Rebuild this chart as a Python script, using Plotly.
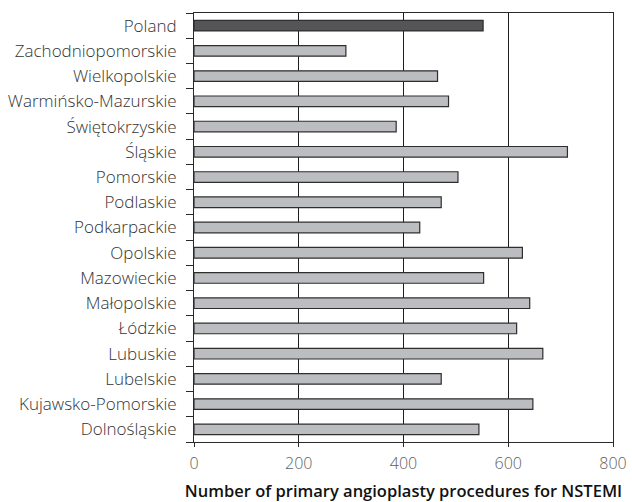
import plotly.graph_objects as go

regions = [
    "Dolnośląskie", "Kujawsko-Pomorskie", "Lubelskie", "Lubuskie", "Łódzkie",
    "Małopolskie", "Mazowieckie", "Opolskie", "Podkarpackie", "Podlaskie",
    "Pomorskie", "Śląskie", "Świętokrzyskie", "Warmińsko-Mazurskie",
    "Wielkopolskie", "Zachodniopomorskie", "Poland",
]
procedures = [544, 647, 472, 666, 616, 641, 553, 627, 431, 472,
              504, 713, 386, 486, 465, 290, 552]
x_ticks = [0, 200, 400, 600, 800]

bar_colors = ["#555557" if r == "Poland" else "#bcbdc1" for r in regions]

fig = go.Figure(
    go.Bar(
        x=procedures,
        y=regions,
        orientation="h",
        marker=dict(color=bar_colors, line=dict(color="#2e2e2e", width=1.2)),
        width=0.42,
    )
)

font_family = "Open Sans"

fig.update_layout(
    width=632,
    height=502,
    margin=dict(l=194, r=19, t=13, b=60),
    paper_bgcolor="white",
    plot_bgcolor="white",
    showlegend=False,
    font=dict(family=font_family, color="#3a3a3a", size=14),
)

fig.update_xaxes(
    range=[0, 800],
    tickvals=x_ticks,
    ticktext=[str(v) for v in x_ticks],
    automargin=False,
    showgrid=True,
    gridcolor="#1e1e1e",
    gridwidth=1,
    zeroline=False,
    showline=True,
    linecolor="#2a2a2a",
    linewidth=1,
    mirror=True,
    ticks="outside",
    ticklen=4,
    tickcolor="#2a2a2a",
    ticklabelstandoff=3,
    tickfont=dict(family=font_family, size=16, color="#606060", weight=300),
    title=dict(
        text="Number of primary angioplasty procedures for NSTEMI",
        font=dict(family=font_family, size=16.5, color="#111111", weight=600),
        standoff=12,
    ),
)

fig.update_yaxes(
    type="category",
    categoryorder="array",
    categoryarray=regions,
    range=[-0.5, len(regions) - 0.5],
    automargin=False,
    showgrid=False,
    showline=True,
    linecolor="#2a2a2a",
    linewidth=1,
    mirror=True,
    ticks="outside",
    tickson="boundaries",
    ticklen=7,
    tickcolor="#2a2a2a",
    ticklabelstandoff=13,
    tickfont=dict(family=font_family, size=17, color="#333333", weight=300),
)

fig.write_html("out.html")
